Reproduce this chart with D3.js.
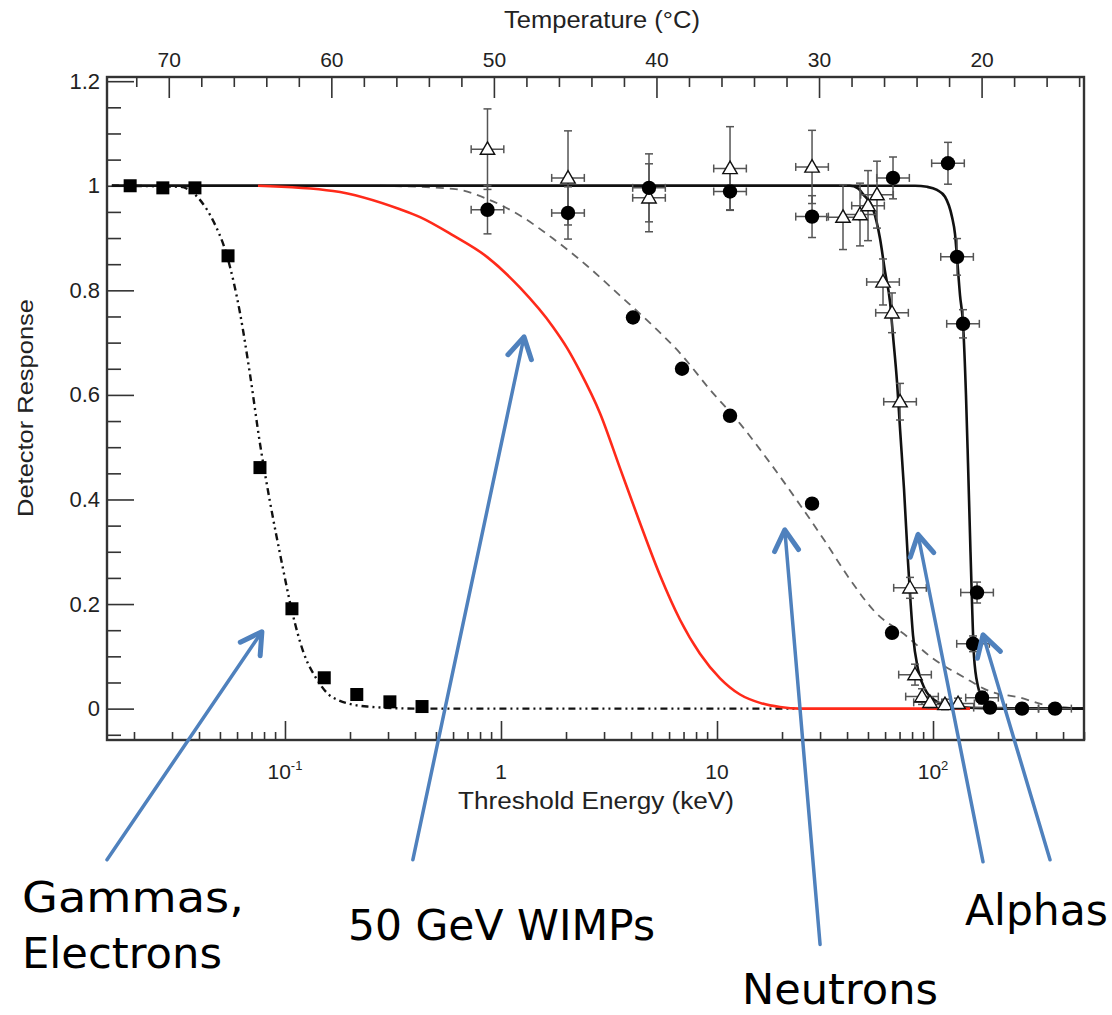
<!DOCTYPE html>
<html><head><meta charset="utf-8">
<script src="https://cdn.jsdelivr.net/npm/d3@7"></script>
<style>body{margin:0;background:#fff} svg{display:block}</style>
</head><body>
<svg id="chart" width="1112" height="1015"></svg>
<script>
// ---------------- data (energy in keV, response) ----------------
const gammaE = [0.0192,0.0272,0.0383,0.0545,0.0766,0.1077,0.152,0.215,0.306,0.431];
const gammaR = [1.0,0.996,0.996,0.866,0.461,0.191,0.059,0.027,0.013,0.004];

const gammaFitE = [0.0158,0.0327,0.0404,0.0469,0.0539,0.0619,0.0689,0.0766,0.0852,0.0969,0.1077,0.121,0.141,0.167,0.240,0.422,24.2];
const gammaFitR = [1.0,0.998,0.973,0.93,0.866,0.757,0.639,0.507,0.396,0.277,0.187,0.111,0.055,0.021,0.004,0,0];

const wimpFitE = [0.075,0.167,0.341,0.422,0.600,0.861,1.225,1.741,2.021,2.322,2.873,3.555,4.401,5.446,6.740,8.342,10.33,12.78,15.82,19.57,24.2,148.4];
const wimpFitR = [1.0,0.99,0.955,0.94,0.905,0.864,0.805,0.73,0.69,0.645,0.565,0.46,0.355,0.255,0.17,0.105,0.058,0.027,0.011,0.003,0,0];

const neutronE = [4.084,6.887,11.49,27.54,64.60];
const neutronR = [0.748,0.65,0.56,0.392,0.145];

const neutronFitE = [0.275,0.600,0.861,1.225,1.741,2.501,3.555,5.054,6.740,9.281,12.78,17.60,24.2,31.62,41.27,53.88,75.80,96.85,137.7,183.6,252.8,323.1,494.9];
const neutronFitR = [1.0,0.994,0.975,0.943,0.899,0.847,0.790,0.732,0.68,0.61,0.545,0.47,0.39,0.32,0.247,0.185,0.138,0.10,0.061,0.033,0.021,0.008,0];

// alpha set A (open triangles)
const alphaAE = [0.866,2.043,4.844,11.49,27.54,38.31,45.92,50.02,55.04,58.68,64.60,70.36,78.25,82.54,88.93,96.85,113.6,130.6];
const alphaAR = [1.07,1.015,0.977,1.033,1.036,0.94,0.945,0.962,0.983,0.816,0.757,0.587,0.231,0.065,0.023,0.012,0.008,0.01];
const alphaAErr = [0.077,0.09,0.065,0.08,0.07,0.062,0.06,0.067,0.064,0.044,0.038,0.035,0.02,0.02,0.015,0.01,0.01,0.01];

// alpha set B (filled circles with error bars)
const alphaBE = [0.866,2.043,4.844,11.49,27.54,65.29,117.3,129.2,137.7,159.9,153.2,168.6,183.6,258.2,367.2];
const alphaBR = [0.954,0.948,0.996,0.989,0.941,1.015,1.043,0.864,0.736,0.222,0.124,0.021,0.002,0.0,0.0];
const alphaBErr = [0.046,0.05,0.065,0.035,0.04,0.04,0.04,0.035,0.027,0.02,0.015,0.012,0.01,0.01,0.01];

const energyErrFactor = 1.19; // horizontal error bars (about +/-1 degC)

const alphaAFitE = [0.0158,41.27,44.96,47.42,52.74,56.84,59.95,63.23,65.29,68.13,70.36,73.41,76.62,78.25,80.81,85.23,91.84,104.3,119.9,204.3,494.9];
const alphaAFitR = [1,1,0.995,0.984,0.956,0.899,0.836,0.778,0.713,0.625,0.535,0.42,0.28,0.22,0.14,0.075,0.037,0.013,0.004,0,0];

const alphaBFitE = [0.0158,82.54,93.80,104.3,113.6,122.5,126.4,129.2,133.4,137.7,142.1,145.2,148.4,151.6,154.8,161.6,168.6,177.8,204.3,494.9];
const alphaBFitR = [1,1,0.998,0.992,0.979,0.94,0.908,0.862,0.79,0.736,0.6,0.47,0.33,0.2,0.1,0.042,0.021,0.005,0,0];

// axes
const energyMajor = [0.1,1,10,100];
const energyMajorLabels = [["10","-1"],["1",""],["10",""],["10","2"]];
const tempMajor = [70,60,50,40,30,20];
const respMajor = [0,0.2,0.4,0.6,0.8,1,1.2];
const respMajorLabels = ["0","0.2","0.4","0.6","0.8","1","1.2"];

// annotations (arrow tail -> tip in data units)
const annoText = ["Gammas,","Electrons","50 GeV WIMPs","Neutrons","Alphas"];
const arrowTailE = [0.0150,0.391,30.0,170.4,348.0];
const arrowTailR = [-0.289,-0.289,-0.451,-0.293,-0.289];
const arrowTipE = [0.0782,1.278,20.6,85.2,170.4];
const arrowTipR = [0.147,0.711,0.342,0.333,0.141];

// ---------------- drawing ----------------
const svg = d3.select("#chart");
const L = 107, R = 1084, T = 77, B = 740;
const x = d3.scaleLog().domain([0.015, 500]).range([L, R]);
const xT = d3.scaleLinear().domain([73.8, 13.7]).range([L, R]);
const y = d3.scaleLinear().domain([-0.06, 1.208]).range([B, T]);

const axisFont = "Liberation Sans, Arial, Helvetica, sans-serif";
const zip = (a,b) => a.map((v,i)=>[v,b[i]]);

// frame
svg.append("rect").attr("x",L).attr("y",T).attr("width",R-L).attr("height",B-T)
  .attr("fill","none").attr("stroke","#333").attr("stroke-width",2.4);

function styleAxis(g){
  g.select(".domain").remove();
  g.selectAll(".tick line").attr("stroke","#333").attr("stroke-width",1.6);
  g.selectAll(".tick text").attr("font-family",axisFont).attr("fill","#222");
}

// left axis
const yMinor = d3.range(-1, 25).map(i=>i*0.05).filter(v=>Math.abs(v/0.2-Math.round(v/0.2))>1e-6 && v<1.21);
svg.append("g").attr("transform",`translate(${L},0)`)
  .call(d3.axisLeft(y).tickValues(yMinor).tickSizeInner(-14).tickSizeOuter(0).tickFormat(""))
  .call(styleAxis);
svg.append("g").attr("transform",`translate(${L},0)`)
  .call(d3.axisLeft(y).tickValues(respMajor).tickSizeInner(-27).tickSizeOuter(0).tickPadding(7)
    .tickFormat((d,i)=>respMajorLabels[i]))
  .call(styleAxis)
  .call(g=>g.selectAll(".tick text").attr("font-size",22));

// bottom axis (log energy)
const eMinor = [];
[-2,-1,0,1,2].forEach(k=>{ for(let m=2;m<=9;m++){ const v=m*Math.pow(10,k); if(v>=0.015 && v<=500) eMinor.push(v);} });
svg.append("g").attr("transform",`translate(0,${B})`)
  .call(d3.axisBottom(x).tickValues(eMinor).tickSizeInner(-8).tickSizeOuter(0).tickFormat(""))
  .call(styleAxis);
svg.append("g").attr("transform",`translate(0,${B})`)
  .call(d3.axisBottom(x).tickValues(energyMajor).tickSizeInner(-19).tickSizeOuter(0).tickFormat(""))
  .call(styleAxis);
const eLab = svg.append("g").attr("font-family",axisFont).attr("fill","#222");
energyMajor.forEach((v,i)=>{
  const t = eLab.append("text").attr("x",x(v)).attr("y",B+39).attr("text-anchor","middle").attr("font-size",21);
  t.append("tspan").text(energyMajorLabels[i][0]);
  if(energyMajorLabels[i][1]) t.append("tspan").attr("dy",-9).attr("font-size",13).text(energyMajorLabels[i][1]);
});

// top axis (temperature)
const tMinor = d3.range(14, 74, 2).filter(v=>v%10!==0);
svg.append("g").attr("transform",`translate(0,${T})`)
  .call(d3.axisTop(xT).tickValues(tMinor).tickSizeInner(-10).tickSizeOuter(0).tickFormat(""))
  .call(styleAxis);
svg.append("g").attr("transform",`translate(0,${T})`)
  .call(d3.axisTop(xT).tickValues(tempMajor).tickSizeInner(-21).tickSizeOuter(0).tickPadding(10).tickFormat(d3.format("d")))
  .call(styleAxis)
  .call(g=>g.selectAll(".tick text").attr("font-size",21));

// axis titles
svg.append("text").attr("x",602).attr("y",28).attr("text-anchor","middle")
  .attr("font-family",axisFont).attr("font-size",23).attr("fill","#222")
  .attr("textLength",196).attr("lengthAdjust","spacingAndGlyphs").text("Temperature (°C)");
svg.append("text").attr("x",596).attr("y",809).attr("text-anchor","middle")
  .attr("font-family",axisFont).attr("font-size",23).attr("fill","#222")
  .attr("textLength",276).attr("lengthAdjust","spacingAndGlyphs").text("Threshold Energy (keV)");
svg.append("text").attr("transform","translate(33,408) rotate(-90)").attr("text-anchor","middle")
  .attr("font-family",axisFont).attr("font-size",22).attr("fill","#222")
  .attr("textLength",218).attr("lengthAdjust","spacingAndGlyphs").text("Detector Response");

// clip for curves
svg.append("clipPath").attr("id","plotclip").append("rect").attr("x",L).attr("y",T).attr("width",R-L).attr("height",B-T);
const plot = svg.append("g").attr("clip-path","url(#plotclip)");
const line = d3.line().x(d=>x(d[0])).y(d=>y(d[1])).curve(d3.curveMonotoneX);

plot.append("path").attr("d",line(zip(gammaFitE,gammaFitR))).attr("fill","none")
  .attr("stroke","#111").attr("stroke-width",2.4).attr("stroke-dasharray","7,4,2,4,2,4");
plot.append("path").attr("d",line(zip(neutronFitE,neutronFitR))).attr("fill","none")
  .attr("stroke","#666").attr("stroke-width",1.8).attr("stroke-dasharray","8,6");
plot.append("path").attr("d",line(zip(alphaAFitE,alphaAFitR))).attr("fill","none")
  .attr("stroke","#111").attr("stroke-width",2.6);
plot.append("path").attr("d",line(zip(alphaBFitE,alphaBFitR))).attr("fill","none")
  .attr("stroke","#111").attr("stroke-width",2.6);
plot.append("path").attr("d",line(zip(wimpFitE,wimpFitR))).attr("fill","none")
  .attr("stroke","#ff2a1a").attr("stroke-width",2.6);

// error bars
function errorBars(E, Rv, Err){
  const g = plot.append("g").attr("stroke","#555").attr("stroke-width",1.5).attr("fill","none");
  E.forEach((e,i)=>{
    const cx = x(e), cy = y(Rv[i]);
    const y1 = y(Rv[i]+Err[i]), y2 = y(Rv[i]-Err[i]);
    const x1 = x(e/energyErrFactor), x2 = x(e*energyErrFactor);
    g.append("line").attr("x1",cx).attr("x2",cx).attr("y1",y1).attr("y2",y2);
    g.append("line").attr("x1",cx-4).attr("x2",cx+4).attr("y1",y1).attr("y2",y1);
    g.append("line").attr("x1",cx-4).attr("x2",cx+4).attr("y1",y2).attr("y2",y2);
    g.append("line").attr("x1",x1).attr("x2",x2).attr("y1",cy).attr("y2",cy);
    g.append("line").attr("x1",x1).attr("x2",x1).attr("y1",cy-4).attr("y2",cy+4);
    g.append("line").attr("x1",x2).attr("x2",x2).attr("y1",cy-4).attr("y2",cy+4);
  });
}
errorBars(alphaAE, alphaAR, alphaAErr);
errorBars(alphaBE, alphaBR, alphaBErr);

// markers
plot.append("g").selectAll("rect").data(zip(gammaE,gammaR)).join("rect")
  .attr("x",d=>x(d[0])-6.5).attr("y",d=>y(d[1])-6.5).attr("width",13).attr("height",13).attr("fill","#000");
const tri = d3.symbol().type(d3.symbolTriangle).size(90);
plot.append("g").selectAll("path").data(zip(alphaAE,alphaAR)).join("path")
  .attr("d",tri).attr("transform",d=>`translate(${x(d[0])},${y(d[1])+1})`)
  .attr("fill","#fff").attr("stroke","#111").attr("stroke-width",1.4);
plot.append("g").selectAll("circle").data(zip(alphaBE,alphaBR)).join("circle")
  .attr("cx",d=>x(d[0])).attr("cy",d=>y(d[1])).attr("r",7.2).attr("fill","#000");
plot.append("g").selectAll("circle").data(zip(neutronE,neutronR)).join("circle")
  .attr("cx",d=>x(d[0])).attr("cy",d=>y(d[1])).attr("r",7.2).attr("fill","#000");

// annotation arrows
const blue = "#4f81bd";
const ag = svg.append("g").attr("stroke",blue).attr("fill","none").attr("stroke-linecap","round").attr("stroke-linejoin","round");
arrowTipE.forEach((e,i)=>{
  const x1 = x(arrowTailE[i]), y1 = y(arrowTailR[i]), x2 = x(e), y2 = y(arrowTipR[i]);
  ag.append("line").attr("x1",x1).attr("y1",y1).attr("x2",x2).attr("y2",y2).attr("stroke-width",3.5);
  const a = Math.atan2(y2-y1, x2-x1), th = Math.PI/6, len = 24;
  const p1 = [x2 - len*Math.cos(a-th), y2 - len*Math.sin(a-th)];
  const p2 = [x2 - len*Math.cos(a+th), y2 - len*Math.sin(a+th)];
  ag.append("path").attr("d",`M${p1[0]},${p1[1]}L${x2},${y2}L${p2[0]},${p2[1]}`).attr("stroke-width",5);
});

// annotation labels
const annoFont = "DejaVu Sans, Verdana, sans-serif";
const annoPos = [[22,912],[22,968],[348,940],[742,1004],[965,925]];
const annoWidth = [222,200,307,196,143];
annoText.forEach((t,i)=>{
  svg.append("text").attr("x",annoPos[i][0]).attr("y",annoPos[i][1])
    .attr("font-family",annoFont).attr("font-size",42).attr("fill","#000")
    .attr("textLength",annoWidth[i]).attr("lengthAdjust","spacingAndGlyphs").text(t);
});
</script>
</body></html>
